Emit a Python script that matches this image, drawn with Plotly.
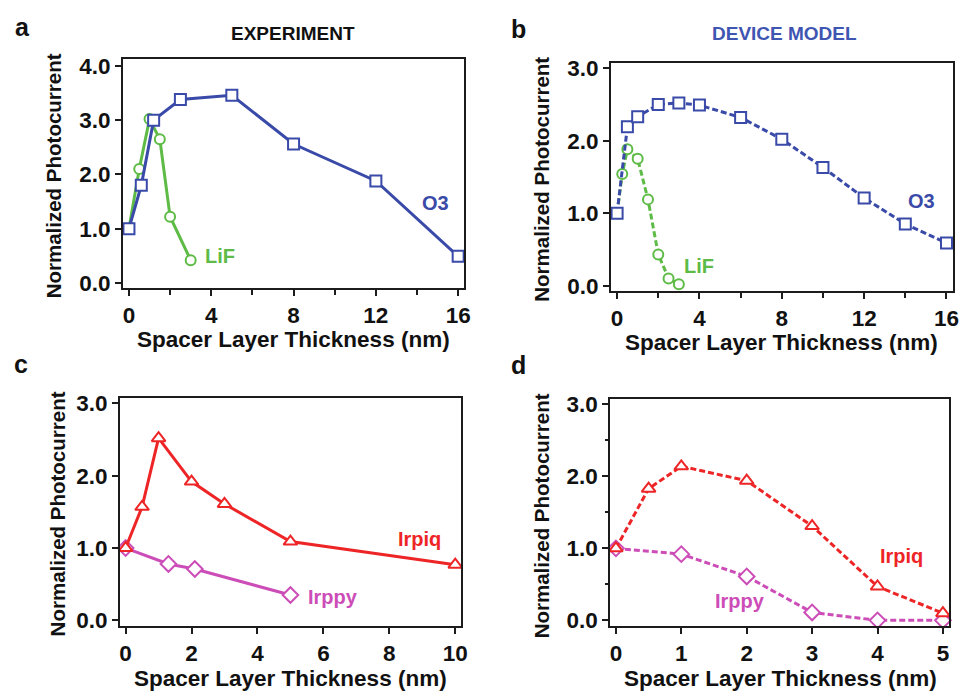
import plotly.graph_objects as go

# ---------------- data ----------------
# Panel a (experiment, O3 / LiF)
a_o3_x = [0, 0.6, 1.2, 2.5, 5, 8, 12, 16]
a_o3_y = [1.0, 1.80, 3.0, 3.38, 3.46, 2.56, 1.88, 0.49]
a_lif_x = [0, 0.5, 1.0, 1.5, 2.0, 3.0]
a_lif_y = [1.0, 2.10, 3.02, 2.65, 1.22, 0.42]

# Panel b (device model, O3 / LiF)
b_o3_x = [0, 0.5, 1, 2, 3, 4, 6, 8, 10, 12, 14, 16]
b_o3_y = [1.0, 2.19, 2.33, 2.50, 2.52, 2.49, 2.32, 2.02, 1.63, 1.21, 0.85, 0.59]
b_lif_x = [0, 0.25, 0.5, 1.0, 1.5, 2.0, 2.5, 3.0]
b_lif_y = [1.0, 1.54, 1.88, 1.75, 1.19, 0.43, 0.10, 0.02]

# Panel c (experiment, Irpiq / Irppy)
c_irpiq_x = [0, 0.5, 1, 2, 3, 5, 10]
c_irpiq_y = [1.0, 1.57, 2.52, 1.92, 1.61, 1.09, 0.77]
c_irppy_x = [0, 1.3, 2.1, 5]
c_irppy_y = [1.0, 0.78, 0.71, 0.35]

# Panel d (device model, Irpiq / Irppy)
d_irpiq_x = [0, 0.5, 1, 2, 3, 4, 5]
d_irpiq_y = [1.0, 1.83, 2.14, 1.94, 1.31, 0.47, 0.10]
d_irppy_x = [0, 1, 2, 3, 4, 5]
d_irppy_y = [1.0, 0.92, 0.61, 0.11, 0.0, 0.0]

panel_letters = ["a", "b", "c", "d"]
column_titles = ["EXPERIMENT", "DEVICE MODEL"]
x_title = "Spacer Layer Thickness (nm)"
y_title = "Normalized Photocurrent"

# ---------------- style ----------------
BLUE = "#3a4aa8"
GREEN = "#5dbb46"
RED = "#ee2526"
MAGENTA = "#cc4db8"
TITLE_BLUE = "#3f55b2"
FRAME = "#1c1c1c"
FONT = "Liberation Sans"
DASH = "6px,3px"

W, H = 969, 698

def px_x(p):
    return p / W

def px_y(p):
    return 1 - p / H

fig = go.Figure()

def add_series(x, y, color, symbol, size, dash, xa, ya):
    fig.add_trace(go.Scatter(
        x=x, y=y, mode="lines+markers",
        line=dict(color=color, width=3, dash=dash),
        marker=dict(symbol=symbol, size=size, color="white",
                    line=dict(color=color, width=2)),
        xaxis=xa, yaxis=ya, cliponaxis=False, showlegend=False,
        hoverinfo="x+y"))

# panel a
add_series(a_lif_x, a_lif_y, GREEN, "circle", 10, "solid", "x", "y")
add_series(a_o3_x, a_o3_y, BLUE, "square", 11, "solid", "x", "y")
# panel b
add_series(b_lif_x, b_lif_y, GREEN, "circle", 10, DASH, "x2", "y2")
add_series(b_o3_x, b_o3_y, BLUE, "square", 11, DASH, "x2", "y2")
# panel c
add_series(c_irppy_x, c_irppy_y, MAGENTA, "diamond", 12, "solid", "x3", "y3")
add_series(c_irpiq_x, c_irpiq_y, RED, "triangle-up", 12, "solid", "x3", "y3")
# panel d
add_series(d_irppy_x, d_irppy_y, MAGENTA, "diamond", 12, DASH, "x4", "y4")
add_series(d_irpiq_x, d_irpiq_y, RED, "triangle-up", 12, DASH, "x4", "y4")

tickfont = dict(family=FONT, size=22.5, color="#111", weight="bold")

def xaxis(domain, rng, dtick, minor_dtick, anchor):
    d = dict(domain=domain, range=rng, dtick=dtick, tick0=0,
             showline=True, mirror=True, linewidth=2, linecolor=FRAME,
             ticks="outside", ticklen=6, tickwidth=2, tickcolor=FRAME,
             showgrid=False, zeroline=False, tickfont=tickfont,
             anchor=anchor, fixedrange=True)
    if minor_dtick:
        d["minor"] = dict(dtick=minor_dtick, tick0=0, ticks="outside",
                          ticklen=5, tickwidth=2, tickcolor=FRAME, showgrid=False)
    return d

def yaxis(domain, rng, dtick, minor_dtick, anchor):
    d = dict(domain=domain, range=rng, dtick=dtick, tick0=0, tickformat=".1f",
             showline=True, mirror=True, linewidth=2, linecolor=FRAME,
             ticks="outside", ticklen=6, tickwidth=2, tickcolor=FRAME,
             showgrid=False, zeroline=False, tickfont=tickfont,
             anchor=anchor, fixedrange=True)
    if minor_dtick:
        d["minor"] = dict(dtick=minor_dtick, tick0=0, ticks="outside",
                          ticklen=3, tickwidth=2, tickcolor=FRAME, showgrid=False)
    return d

fig.update_layout(
    width=W, height=H,
    margin=dict(l=0, r=0, t=0, b=0),
    paper_bgcolor="white", plot_bgcolor="white",
    font=dict(family=FONT, color="#111"),
    xaxis=xaxis([px_x(123), px_x(467)], [-0.29, 16.29], 4, 2, "y"),
    yaxis=yaxis([px_y(287), px_y(53)], [-0.09, 4.13], 1, None, "x"),
    xaxis2=xaxis([px_x(615), px_x(960)], [-0.30, 16.32], 4, 2, "y2"),
    yaxis2=yaxis([px_y(290.7), px_y(57.3)], [-0.08, 3.07], 1, None, "x2"),
    xaxis3=xaxis([px_x(120), px_x(464)], [-0.17, 10.18], 2, None, "y3"),
    yaxis3=yaxis([px_y(632.7), px_y(400)], [-0.08, 3.07], 1, None, "x3"),
    xaxis4=xaxis([px_x(614.3), px_x(955.7)], [-0.087, 5.09], 1, None, "y4"),
    yaxis4=yaxis([px_y(632.7), px_y(401)], [-0.08, 3.07], 1, 0.5, "x4"),
)

ann = []
def paper_text(text, x, y, size, color="#111", angle=0, xanchor="center"):
    ann.append(dict(text=text, x=px_x(x), y=px_y(y), xref="paper", yref="paper",
                    showarrow=False, xanchor=xanchor, yanchor="middle",
                    textangle=angle,
                    font=dict(family=FONT, size=size, color=color, weight="bold")))

def data_text(text, x, y, xr, yr, color, size=20):
    ann.append(dict(text=text, x=x, y=y, xref=xr, yref=yr, showarrow=False,
                    xanchor="center", yanchor="middle",
                    font=dict(family=FONT, size=size, color=color, weight="bold")))

# panel letters
paper_text(panel_letters[0], 12, 20, 25, xanchor="left")
paper_text(panel_letters[1], 512, 22, 25, xanchor="left")
paper_text(panel_letters[2], 11, 365, 25, xanchor="left")
paper_text(panel_letters[3], 512, 366, 25, xanchor="left")

# column titles
paper_text(column_titles[0], 294.5, 27, 19)
paper_text(column_titles[1], 790, 27, 19, color=TITLE_BLUE)

# axis titles
for cx, cy in [(295, 340), (787.5, 343), (291.7, 686.5), (785.8, 686.5)]:
    paper_text(x_title, cx, cy, 22.5)
for cx, cy in [(53, 172.5), (545, 176), (57, 518), (545, 520)]:
    paper_text(y_title, cx, cy, 20.5, angle=-90)

# series labels
data_text("O3", 14.9, 1.48, "x", "y", BLUE)
data_text("LiF", 4.41, 0.49, "x", "y", GREEN)
data_text("O3", 14.8, 1.17, "x2", "y2", BLUE)
data_text("LiF", 3.99, 0.27, "x2", "y2", GREEN)
data_text("Irpiq", 8.92, 1.13, "x3", "y3", RED)
data_text("Irppy", 6.29, 0.32, "x3", "y3", MAGENTA)
data_text("Irpiq", 4.36, 0.89, "x4", "y4", RED)
data_text("Irppy", 1.90, 0.27, "x4", "y4", MAGENTA)

fig.update_layout(annotations=ann)
fig.write_html("out.html")
